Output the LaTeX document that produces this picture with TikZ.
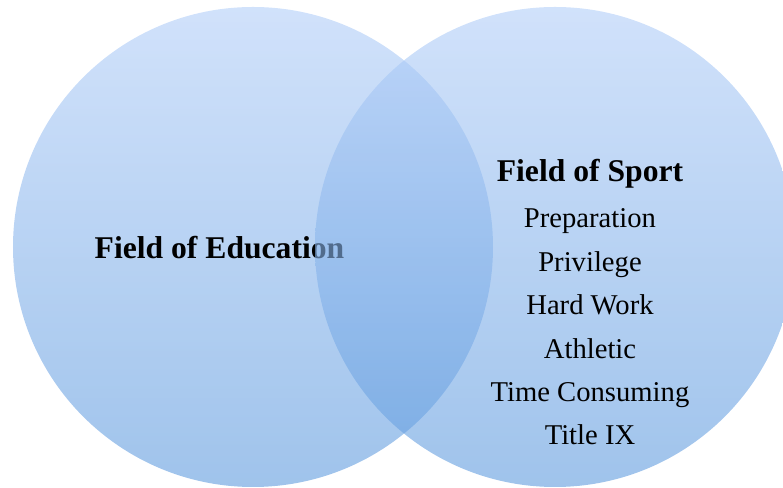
\documentclass[tikz,border=0pt]{standalone}
\usepackage{fontspec}
\setmainfont{Liberation Serif}
\usepackage{tikz}

\definecolor{ringtop}{RGB}{178,206,248}
\definecolor{ringbot}{RGB}{95,155,222}

\begin{document}
\begin{tikzpicture}[
    field/.style={top color=ringtop, bottom color=ringbot, fill opacity=0.6, draw=none},
    heading/.style={anchor=base, font=\fontsize{18}{21}\selectfont\bfseries},
    item/.style={anchor=base, font=\fontsize{16.3}{19}\selectfont}
]

    % Fix the page to the reference size
    \useasboundingbox (0, 0) rectangle (15.66, 9.76);

    % Left set and its label (the right set is laid over it)
    \shade[field] (5.06, 4.82) circle (4.8);
    \node[heading] (edu) at (4.39, 4.58) {Field of Education};

    % Right set
    \shade[field] (11.1, 4.82) circle (4.8);
    \node[heading] (sport) at (11.8, 6.12) {Field of Sport};

    % Words inside the right set
    \foreach \word [count=\i] in {Preparation, Privilege, Hard Work, Athletic, Time Consuming, Title IX} {
        \node[item] (w\i) at (11.8, {5.2 - 0.868*(\i-1)}) {\word};
    }

\end{tikzpicture}
\end{document}
